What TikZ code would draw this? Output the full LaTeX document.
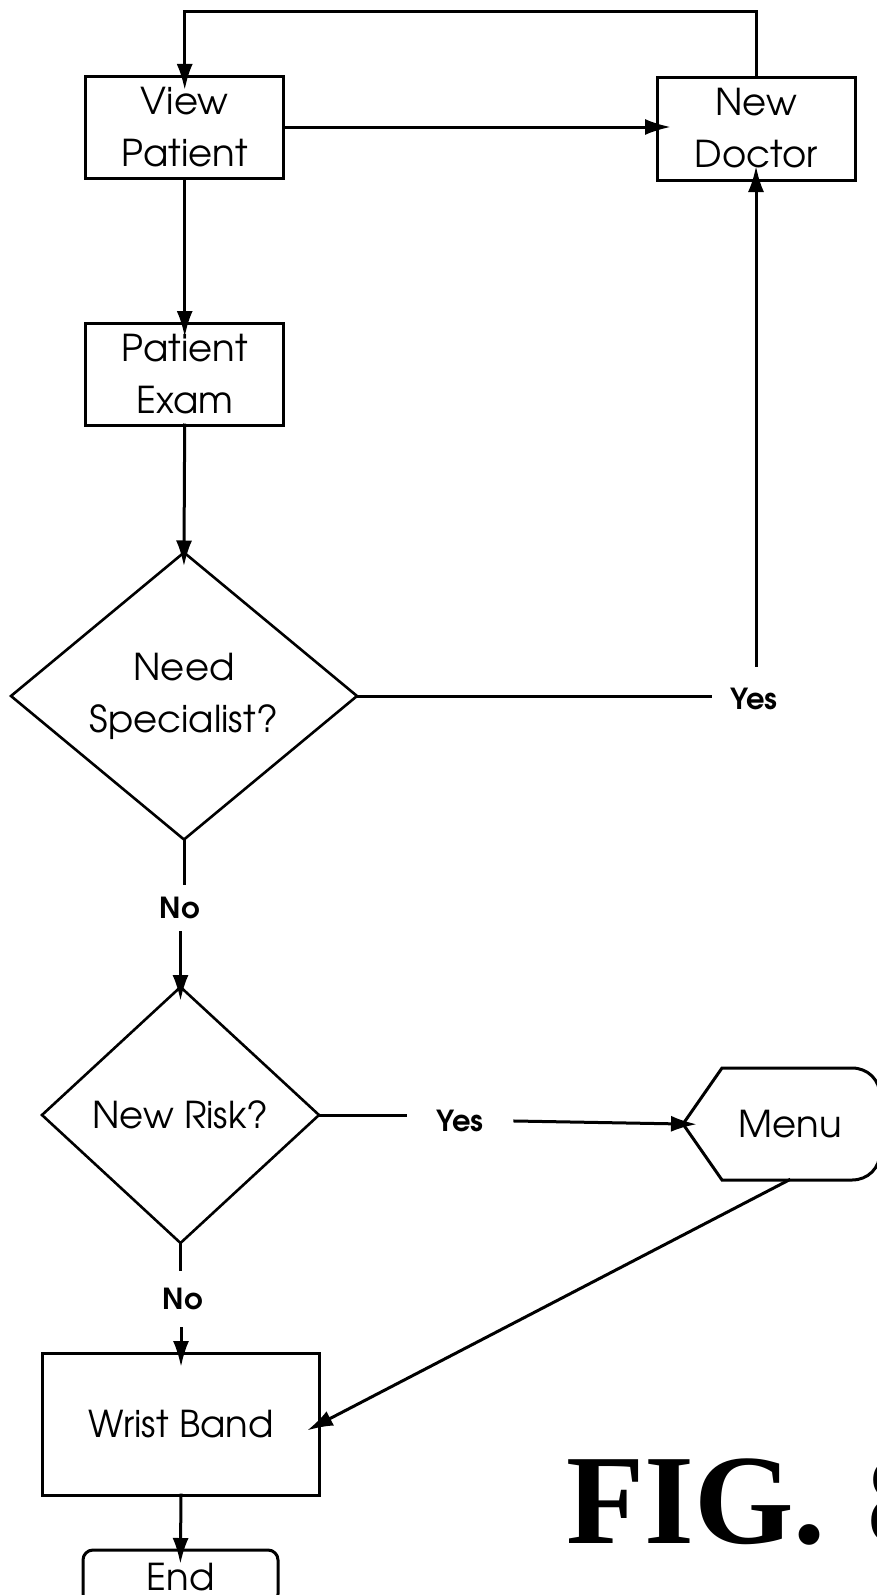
\documentclass[tikz,border=0pt]{standalone}
\usepackage{fontspec}
\setmainfont{texgyreadventor}[Extension=.otf, UprightFont=*-regular, BoldFont=*-bold, ItalicFont=*-italic, BoldItalicFont=*-bolditalic]
\newfontfamily\figfont{Liberation Serif}
\usetikzlibrary{shapes.geometric,arrows.meta}
\tikzset{
  ln/.style={line width=3pt, line cap=rect},
  boxnode/.style={draw, ln, rectangle, inner sep=0pt, outer sep=0pt, align=center, font=\fontsize{37}{52}\selectfont},
  decnode/.style={draw, line width=2.6pt, diamond, inner sep=0pt, outer sep=0pt, align=center, font=\fontsize{37}{52}\selectfont},
  lbl/.style={inner sep=0pt, font=\bfseries\fontsize{29}{32}\selectfont},
  arr/.style={ln, -{Latex[length=26pt,width=16pt]}, shorten >=-14pt},
  plain/.style={ln}
}
\begin{document}
\begin{tikzpicture}[x=1pt,y=-1pt]
\useasboundingbox (0,0) rectangle (877,1595);
\clip (0,0) rectangle (877,1595);
\fill[white] (0,0) rectangle (877,1595);

\node[boxnode, minimum width=198pt, minimum height=102pt] (vp) at (184.7,127) {View\\Patient};
\node[boxnode, minimum width=198pt, minimum height=103pt] (nd) at (756,128.5) {New\\Doctor};
\node[boxnode, minimum width=198pt, minimum height=102pt] (pe) at (184.7,374) {Patient\\Exam};
\node[decnode, minimum width=346pt, minimum height=287pt] (d1) at (184,696) {Need\\Specialist?};
\node[lbl, inner xsep=20pt, inner ysep=22pt] (yes1) at (754,699) {Yes};
\node[lbl, inner xsep=4pt, inner ysep=13pt] (no1) at (180,908) {No};
\node[decnode, minimum width=277pt, minimum height=256pt] (d2) at (180.5,1115) {New Risk?};
\node[lbl, inner xsep=31pt, inner ysep=4pt] (yes2) at (460,1121) {Yes};
\node[inner sep=0pt, font=\fontsize{37}{52}\selectfont] (menu) at (790,1124) {Menu};
\coordinate (menuL) at (683,1124);
\coordinate (menuB) at (789,1180);
\draw[ln, line cap=butt] (683,1124) -- (722,1068) -- (852,1068)
   .. controls (868,1068) and (880,1080) .. (880,1096) -- (880,1152)
   .. controls (880,1168) and (868,1180) .. (852,1180) -- (722,1180) -- cycle;
\node[lbl, inner xsep=4pt, inner ysep=18pt] (no2) at (183,1299) {No};
\node[boxnode, minimum width=277pt, minimum height=142pt] (wb) at (181,1424) {Wrist Band};
\node[boxnode, rounded corners=10pt, minimum width=195pt, minimum height=54pt] (end) at (180.5,1577) {End};
\node[inner sep=0pt, anchor=base west, font=\figfont\bfseries\fontsize{128}{130}\selectfont] (fig) at (566,1543) {FIG.\hspace{10pt} 8};

% connectors
\draw[arr] (nd.north) -- ++(0,-65) -| (vp.north);
\draw[arr] (vp.east) -- (vp.east -| nd.west);
\draw[arr] (vp.south) -- (pe.north);
\draw[arr] (pe.south) -- (d1.north);
\draw[plain] (d1.east) -- (d1.east -| yes1.west);
\draw[arr] (yes1.north -| nd.south) -- (nd.south);
\draw[plain] (d1.south) -- (d1.south |- no1.north);
\draw[arr] (d2.north |- no1.south) -- (d2.north);
\draw[plain] (d2.east) -- (d2.east -| yes2.west);
\draw[arr] (yes2.east) -- (menuL);
\draw[arr] (menuB) -- (wb.east);
\draw[plain] (d2.south) -- (d2.south |- no2.north);
\draw[arr] (wb.north |- no2.south) -- (wb.north);
\draw[arr] (wb.south) -- (end.north);
\end{tikzpicture}
\end{document}
